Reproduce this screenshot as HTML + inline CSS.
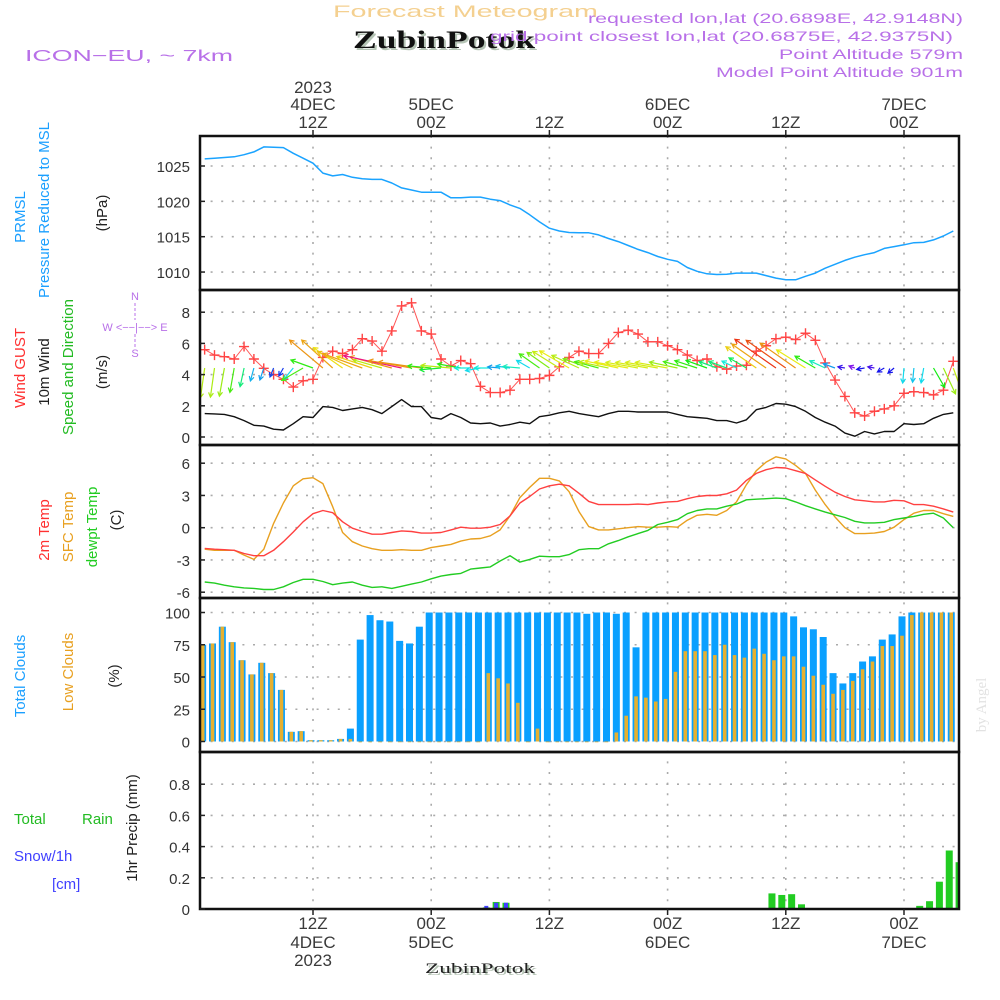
<!DOCTYPE html>
<html><head><meta charset="utf-8"><style>
html,body{margin:0;padding:0;background:#fff;}
svg{display:block;font-family:"Liberation Sans",sans-serif;}
</style></head><body>
<svg id="chart" width="1000" height="1000" viewBox="0 0 1000 1000" xmlns="http://www.w3.org/2000/svg">
<defs>
<clipPath id="plotclip"><rect x="201" y="136" width="758" height="773"/></clipPath>
</defs>
<g id="header">
<text x="333" y="17" font-size="17" fill="#f4d090" textLength="265" lengthAdjust="spacingAndGlyphs">Forecast Meteogram</text>
<text x="355" y="50" font-size="25" font-weight="bold" fill="#b5c4b5" font-family="Liberation Serif, serif" textLength="182" lengthAdjust="spacingAndGlyphs">ZubinPotok</text>
<text x="353" y="48" font-size="25" font-weight="bold" fill="#111" font-family="Liberation Serif, serif" textLength="182" lengthAdjust="spacingAndGlyphs">ZubinPotok</text>
<text x="25" y="61" font-size="16" fill="#b870e8" textLength="208" lengthAdjust="spacingAndGlyphs">ICON−EU, ~ 7km</text>
<text x="588" y="23" font-size="14" fill="#b870e8" textLength="375" lengthAdjust="spacingAndGlyphs">requested lon,lat (20.6898E, 42.9148N)</text>
<text x="490" y="41" font-size="14" fill="#b870e8" textLength="463" lengthAdjust="spacingAndGlyphs">grid point closest lon,lat (20.6875E, 42.9375N)</text>
<text x="779" y="59" font-size="14" fill="#b870e8" textLength="184" lengthAdjust="spacingAndGlyphs">Point Altitude 579m</text>
<text x="716" y="77" font-size="14" fill="#b870e8" textLength="247" lengthAdjust="spacingAndGlyphs">Model Point Altitude 901m</text>
</g>
<g id="labels" font-size="15">
<text transform="translate(25,217) rotate(-90)" text-anchor="middle" fill="#1a9fff">PRMSL</text>
<text transform="translate(49,210) rotate(-90)" text-anchor="middle" fill="#1a9fff">Pressure Reduced to MSL</text>
<text transform="translate(107,213) rotate(-90)" text-anchor="middle" fill="#222">(hPa)</text>
<text transform="translate(25,368) rotate(-90)" text-anchor="middle" fill="#ff3030">Wind GUST</text>
<text transform="translate(49,372) rotate(-90)" text-anchor="middle" fill="#222">10m Wind</text>
<text transform="translate(73,367) rotate(-90)" text-anchor="middle" fill="#22bb22">Speed and Direction</text>
<text transform="translate(107,372) rotate(-90)" text-anchor="middle" fill="#222">(m/s)</text>
<text transform="translate(49,530) rotate(-90)" text-anchor="middle" fill="#ff3030">2m Temp</text>
<text transform="translate(73,527) rotate(-90)" text-anchor="middle" fill="#e8a020">SFC Temp</text>
<text transform="translate(97,527) rotate(-90)" text-anchor="middle" fill="#22cc22">dewpt Temp</text>
<text transform="translate(121,520) rotate(-90)" text-anchor="middle" fill="#222">(C)</text>
<text transform="translate(25,676) rotate(-90)" text-anchor="middle" fill="#1a9fff">Total Clouds</text>
<text transform="translate(73,672) rotate(-90)" text-anchor="middle" fill="#e8a020">Low Clouds</text>
<text transform="translate(119,676) rotate(-90)" text-anchor="middle" fill="#222">(%)</text>
<text transform="translate(137,828) rotate(-90)" text-anchor="middle" fill="#222">1hr Precip (mm)</text>
<text x="14" y="824" fill="#22bb22">Total</text>
<text x="82" y="824" fill="#22bb22">Rain</text>
<text x="14" y="861" fill="#4040ff">Snow/1h</text>
<text x="52" y="889" fill="#4040ff">[cm]</text>
<text transform="translate(986,705) rotate(-90)" text-anchor="middle" fill="#e2e2e2" font-family="Liberation Serif, serif">by Angel</text>
<text x="427" y="975" font-size="15" fill="#b5c4b5" font-family="Liberation Serif, serif" textLength="110" lengthAdjust="spacingAndGlyphs">ZubinPotok</text>
<text x="425" y="973" font-size="15" fill="#222" font-family="Liberation Serif, serif" textLength="110" lengthAdjust="spacingAndGlyphs">ZubinPotok</text>
</g>
<g id="compass" fill="#b870e8" font-size="11" text-anchor="middle">
<text x="135" y="300">N</text>
<text x="135" y="331">W &lt;−−|−−&gt; E</text>
<text x="135" y="357">S</text>
<line x1="135" y1="303" x2="135" y2="320" stroke="#b870e8" stroke-dasharray="3,2"/>
<line x1="135" y1="334" x2="135" y2="347" stroke="#b870e8" stroke-dasharray="3,2"/>
</g>
<g id="grid"></g>
<g id="marks" clip-path="url(#plotclip)"></g>
<g id="frame"></g>
<g id="ticks"></g>
</svg>
<script>
// ---- data (hour index t = 1..77, hours since 00Z 4 DEC 2023) ----
const pressure = [1026.0,1026.1,1026.2,1026.3,1026.6,1027.0,1027.7,1027.65,1027.6,1026.8,1026.1,1025.4,1024.0,1023.6,1023.8,1023.4,1023.2,1023.1,1023.1,1022.6,1021.9,1021.6,1021.3,1021.3,1021.3,1020.5,1020.5,1020.6,1020.6,1020.3,1020.1,1019.5,1019.0,1018.1,1017.1,1016.2,1015.8,1015.6,1015.55,1015.55,1015.25,1014.75,1014.3,1013.75,1013.2,1012.75,1012.2,1011.8,1011.5,1010.65,1010.1,1009.75,1009.65,1009.7,1009.85,1009.85,1009.85,1009.5,1009.15,1008.9,1008.9,1009.4,1009.85,1010.55,1011.1,1011.65,1012.1,1012.45,1012.75,1013.35,1013.6,1013.85,1014.15,1014.2,1014.55,1015.1,1015.8];
const windSpeed = [1.5,1.48,1.45,1.3,1.05,0.75,0.7,0.5,0.45,0.85,1.3,1.25,1.95,1.9,1.7,1.8,1.9,1.75,1.5,1.95,2.4,1.95,1.95,1.25,1.15,1.5,1.25,0.9,0.85,0.9,0.7,0.8,0.95,0.85,1.3,1.4,1.55,1.65,1.5,1.4,1.3,1.5,1.65,1.65,1.6,1.6,1.6,1.6,1.45,1.3,1.25,1.2,1.05,1.05,0.9,1.1,1.75,1.9,2.15,2.1,1.95,1.65,1.25,0.95,0.7,0.25,0.05,0.35,0.2,0.35,0.35,0.85,0.8,0.85,1.2,1.45,1.55];
const windGust = [5.6,5.25,5.15,5.0,5.8,5.0,4.4,4.0,3.7,3.2,3.6,3.7,5.1,5.5,5.35,5.6,6.3,6.15,5.5,6.8,8.4,8.6,6.8,6.6,5.0,4.55,4.9,4.7,3.25,2.85,2.85,3.0,3.7,3.7,3.75,3.95,4.5,5.1,5.5,5.35,5.35,6.0,6.7,6.85,6.6,6.1,6.1,5.85,5.6,5.25,4.9,5.0,4.5,4.35,4.55,4.6,5.5,5.85,6.3,6.4,6.25,6.65,6.2,4.75,3.65,2.6,1.55,1.35,1.65,1.8,2.0,2.8,2.9,2.85,2.7,3.0,4.85];
// direction the arrow points, screen degrees (0=east/right, 90=down, 180=west/left)
const windDir = [98,98,100,100,102,105,108,112,120,130,150,200,220,222,215,205,200,198,196,195,192,190,188,185,175,185,190,180,170,180,185,188,185,210,215,215,212,210,205,200,195,192,192,190,190,190,190,190,192,195,198,200,200,200,205,210,215,215,215,215,215,212,210,205,200,190,200,170,190,150,140,95,95,100,60,65,70];
const temp2m = [-1.93,-2.0,-2.05,-2.1,-2.4,-2.6,-2.6,-2.1,-1.3,-0.4,0.55,1.3,1.6,1.4,0.55,-0.05,-0.35,-0.6,-0.6,-0.45,-0.3,-0.35,-0.5,-0.5,-0.45,-0.2,0.05,-0.05,-0.05,0.05,0.3,1.1,2.3,2.9,3.6,3.9,4.05,3.9,3.2,2.45,2.15,2.15,2.15,2.15,2.2,2.15,2.3,2.4,2.45,2.7,2.9,3.0,3.0,3.15,3.5,4.4,5.05,5.4,5.6,5.55,5.3,5.05,4.45,3.85,3.3,2.9,2.6,2.5,2.4,2.4,2.55,2.5,2.15,2.15,2.0,1.75,1.45];
const tempSfc = [-2.0,-2.1,-2.1,-2.1,-2.55,-2.95,-2.0,0.4,2.3,3.9,4.55,4.65,4.1,1.95,-0.45,-1.3,-1.7,-1.95,-2.1,-2.1,-2.05,-2.1,-2.1,-1.85,-1.7,-1.55,-1.25,-1.05,-1.0,-0.75,-0.2,1.1,2.8,3.75,4.6,4.6,4.35,3.35,1.5,0.1,-0.2,-0.2,-0.1,0,0.1,0.05,0.05,0.1,0.05,0.7,1.15,1.25,1.15,1.6,2.4,4.0,5.3,6.1,6.6,6.4,5.8,5.05,3.5,2.15,1.0,0,-0.55,-0.55,-0.5,-0.35,0.05,0.75,1.35,1.6,1.6,1.3,1.05];
const dewpt = [-5.05,-5.15,-5.35,-5.5,-5.6,-5.65,-5.75,-5.75,-5.5,-5.1,-4.8,-4.8,-5.0,-5.3,-5.15,-5.05,-5.35,-5.55,-5.5,-5.65,-5.45,-5.25,-5.05,-4.75,-4.5,-4.35,-4.25,-3.85,-3.75,-3.65,-3.1,-2.6,-3.2,-2.95,-2.65,-2.7,-2.7,-2.5,-2.05,-1.95,-1.95,-1.5,-1.2,-0.85,-0.55,-0.25,0.3,0.5,0.75,1.3,1.6,1.75,1.75,2.0,2.2,2.6,2.65,2.7,2.75,2.7,2.4,2.05,1.75,1.45,1.2,0.95,0.6,0.45,0.45,0.5,0.75,0.9,1.05,1.25,1.35,0.9,0];
const totalClouds = [75,76,89,77,63,52,61,53,40,7.5,8,1,1,1,2,10,79,98,94,93,78,76,89,100,100,100,100,100,100,100,100,100,100,100,100,100,100,100,100,99,100,100,99,100,73,100,100,100,100,100,100,100,100,100,100,100,100,100,100,100,97,88.5,87,81,53,45,53,62,66,79,83,97,100,100,100,100,100];
const lowClouds = [75,76,89,77,63,52,61,53,40,7.5,8,1,1,1,2,2,0,0,0,0,0,0,0,0,0,0,0,0,0,53,49,45,30,0,10,0,0,0,0,0,0,0,7,20,35,34,31,33,54,70,70,70,67,75,67,65,72,68,63,66,66,58,51,44,37,40,47,56,62,74,74,82,98,100,100,100,100];
// precipitation t = 1..78
const rain = [0,0,0,0,0,0,0,0,0,0,0,0,0,0,0,0,0,0,0,0,0,0,0,0,0,0,0,0,0.005,0.01,0.045,0.04,0,0,0,0,0,0,0,0,0,0,0,0,0,0,0,0,0,0,0,0,0,0,0,0,0,0,0.10,0.09,0.095,0.03,0,0,0,0,0,0,0,0,0,0,0,0.02,0.05,0.175,0.375,0.30];
const snow = [0,0,0,0,0,0,0,0,0,0,0,0,0,0,0,0,0,0,0,0,0,0,0,0,0,0,0,0,0,0.02,0.04,0.04,0,0.005,0,0,0,0,0,0,0,0,0,0,0,0,0,0,0,0,0,0,0,0,0,0,0,0,0,0,0,0,0,0,0,0,0,0,0,0,0,0,0,0,0,0,0,0];
const pressureTicks = [1025,1020,1015,1010];
const windTicks = [8,6,4,2,0];
const tempTicks = [6,3,0,-3,-6];
const cloudTicks = [100,75,50,25,0];
const precipTicks = [0.8,0.6,0.4,0.2,0];
const timeTicks = [12,24,36,48,60,72];
const topLabels = [["2023","4DEC","12Z"],["","5DEC","00Z"],["","","12Z"],["","6DEC","00Z"],["","","12Z"],["","7DEC","00Z"]];
const bottomLabels = [["12Z","4DEC","2023"],["00Z","5DEC",""],["12Z","",""],["00Z","6DEC",""],["12Z","",""],["00Z","7DEC",""]];

// ---- scales ----
const NS = "http://www.w3.org/2000/svg";
const X0 = 200, X1 = 959;
function xT(t){ return 313 + (t - 12) * 9.85; }
const yP = v => 166 + (1025 - v) * 7.07;
const yW = v => 437 - v * 15.6;
const yTm = v => 527.7 - v * 10.75;
const yC = v => 741.5 - v * 1.29;
const yR = v => 909 - v * 156;
const panels = [[136,290],[290,445],[445,598],[598,752],[752,909]];

function mk(tag, attrs, parent){
  const e = document.createElementNS(NS, tag);
  for (const k in attrs) e.setAttribute(k, attrs[k]);
  parent.appendChild(e);
  return e;
}
const grid = document.getElementById('grid');
const marks = document.getElementById('marks');
const frame = document.getElementById('frame');
const ticks = document.getElementById('ticks');

function yAxis(vals, fn, name, fmt){
  vals.forEach(v => {
    const y = fn(v);
    const gl = mk('line', {x1:X0, x2:X1, y1:y, y2:y, stroke:'#aaa', 'stroke-width':1.6, 'stroke-dasharray':'2,8.6'}, grid);
    
    
    const tk = mk('line', {x1:X0, x2:X0 + 5, y1:y, y2:y, stroke:'#222', 'stroke-width':1.5}, ticks);
    
    
    const tx = mk('text', {x:190, y:y + 6, 'text-anchor':'end', 'font-size':15, fill:'#333'}, ticks);
    tx.textContent = fmt ? fmt(v) : String(v);
    
    
  });
}
yAxis(pressureTicks, yP, 'pressure-axis');
yAxis(windTicks, yW, 'wind-axis');
yAxis(tempTicks, yTm, 'temp-axis');
yAxis(cloudTicks, yC, 'cloud-axis');
yAxis(precipTicks, yR, 'precip-axis', v => v === 0 ? '0' : v.toFixed(1));

timeTicks.forEach((t, i) => {
  const x = xT(t);
  const vl = mk('line', {x1:x, x2:x, y1:136, y2:909, stroke:'#aaa', 'stroke-width':1.6, 'stroke-dasharray':'2,8.6'}, grid);
  
  
  mk('line', {x1:x, x2:x, y1:130, y2:136, stroke:'#222', 'stroke-width':1.5}, ticks);
  mk('line', {x1:x, x2:x, y1:909, y2:915, stroke:'#222', 'stroke-width':1.5}, ticks);
  const tl = topLabels[i], bl = bottomLabels[i];
  [93,110,128].forEach((yy, j) => {
    if (!tl[j]) return;
    const e = mk('text', {x:x, y:yy, 'text-anchor':'middle', 'font-size':17, fill:'#3a3a3a'}, ticks);
    e.textContent = tl[j];
    
    
  });
  [929,948,966].forEach((yy, j) => {
    if (!bl[j]) return;
    const e = mk('text', {x:x, y:yy, 'text-anchor':'middle', 'font-size':17, fill:'#3a3a3a'}, ticks);
    e.textContent = bl[j];
    
    
  });
});

panels.forEach(p => {
  const r = mk('rect', {x:X0, y:p[0], width:X1 - X0, height:p[1] - p[0], fill:'none', stroke:'#111', 'stroke-width':2.5}, frame);
  
  
});

function linePath(arr, fn, color, name, w){
  let d = '';
  arr.forEach((v, i) => { d += (i ? 'L' : 'M') + xT(i + 1).toFixed(1) + ',' + fn(v).toFixed(1); });
  const p = mk('path', {d:d, fill:'none', stroke:color, 'stroke-width':w || 1.4, 'stroke-linejoin':'round'}, marks);
  
  
}

totalClouds.forEach((v, i) => {
  const cx = xT(i + 1) - 2;
  const b = mk('rect', {x:cx - 3.5, y:yC(v), width:7, height:yC(0) - yC(v), fill:'#0aa0ff'}, marks);
  
  
});
lowClouds.forEach((v, i) => {
  const cx = xT(i + 1) - 2;
  const b = mk('rect', {x:cx - 1.8, y:yC(v), width:3.6, height:Math.max(yC(0) - yC(v), 0.8), fill:'#e6b030'}, marks);
  
  
});
rain.forEach((v, i) => {
  if (v <= 0) return;
  const cx = xT(i + 1) - 4;
  const b = mk('rect', {x:cx - 3.5, y:yR(v), width:7, height:yR(0) - yR(v), fill:'#22cc22'}, marks);
  
  
});
snow.forEach((v, i) => {
  if (v <= 0) return;
  const cx = xT(i + 1) - 4;
  const b = mk('rect', {x:cx - 2, y:yR(v), width:4, height:yR(0) - yR(v), fill:'#4040ff'}, marks);
  
  
});

linePath(pressure, yP, '#1aa3ff', 'pressure-line', 1.5);
linePath(windSpeed, yW, '#111', 'wind-speed-line', 1.4);
linePath(windGust, yW, '#ff5555', 'gust-line', 1.0);
linePath(tempSfc, yTm, '#e8a020', 'sfc-temp-line', 1.4);
linePath(temp2m, yTm, '#ff4040', 'temp-2m-line', 1.4);
linePath(dewpt, yTm, '#22cc22', 'dewpoint-line', 1.4);

windGust.forEach((v, i) => {
  const x = xT(i + 1), y = yW(v);
  const g = mk('path', {d:`M${x-5},${y}L${x+5},${y}M${x},${y-5}L${x},${y+5}`, stroke:'#ff4444', 'stroke-width':1.4}, marks);
  
  
});

const hueTable = [[0,275],[0.5,225],[0.85,185],[1.2,120],[1.5,75],[1.75,52],[2.0,32],[2.4,-30]];
function hueFor(s){
  if (s <= hueTable[0][0]) return hueTable[0][1];
  for (let k = 1; k < hueTable.length; k++){
    if (s <= hueTable[k][0]){
      const a = hueTable[k-1], b = hueTable[k];
      return a[1] + (b[1] - a[1]) * (s - a[0]) / (b[0] - a[0]);
    }
  }
  return hueTable[hueTable.length-1][1];
}
windDir.forEach((d, i) => {
  const s = windSpeed[i];
  const L = 6 + 12 * Math.pow(s, 1.7);
  const x0 = xT(i + 1), y0 = 368;
  const a = d * Math.PI / 180;
  const x1 = x0 + L * Math.cos(a), y1 = y0 + L * Math.sin(a);
  const h = 5, sp = 0.5;
  const hx1 = x1 - h * Math.cos(a - sp), hy1 = y1 - h * Math.sin(a - sp);
  const hx2 = x1 - h * Math.cos(a + sp), hy2 = y1 - h * Math.sin(a + sp);
  const col = `hsl(${(hueFor(s) + 360) % 360},85%,50%)`;
  const ar = mk('path', {d:`M${x0.toFixed(1)},${y0}L${x1.toFixed(1)},${y1.toFixed(1)}M${hx1.toFixed(1)},${hy1.toFixed(1)}L${x1.toFixed(1)},${y1.toFixed(1)}L${hx2.toFixed(1)},${hy2.toFixed(1)}`, fill:'none', stroke:col, 'stroke-width':1.2}, marks);
  
  
});
</script>
</body></html>
